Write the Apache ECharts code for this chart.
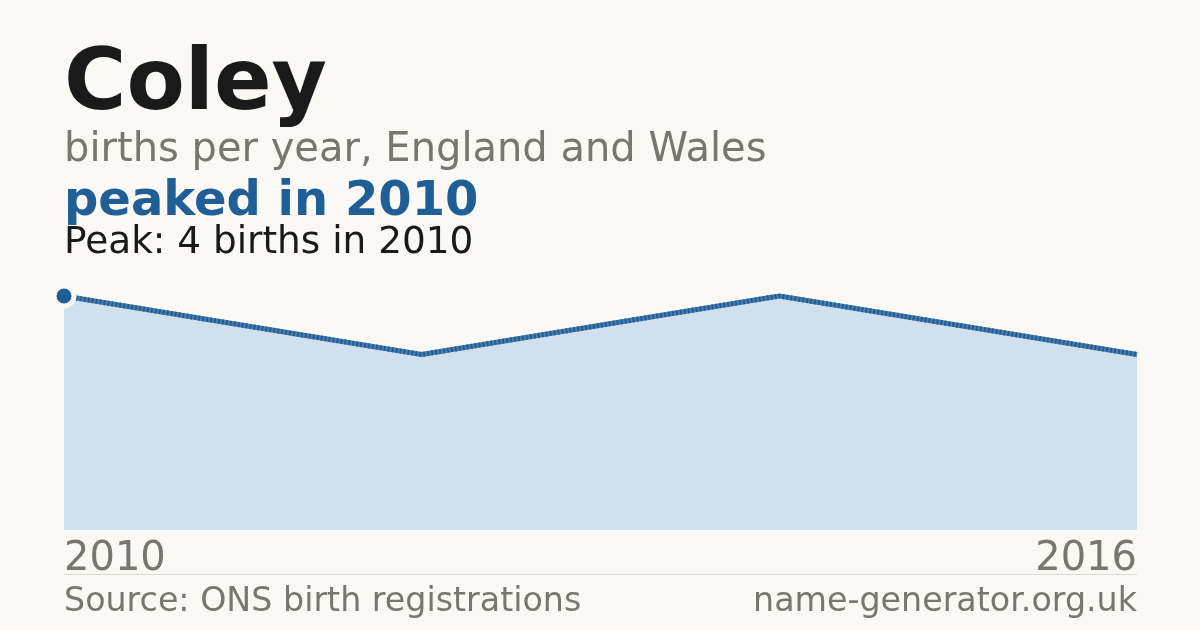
<!DOCTYPE html>
<html lang="en">
<head>
    <meta charset="UTF-8">
    <title>Coley</title>
    <script src="https://cdn.jsdelivr.net/npm/echarts@6/dist/echarts.min.js"></script>
    <style>
        html, body { margin: 0; padding: 0; background: #faf9f5; }
    </style>
</head>
<body>
    <div id="app" style="width:1200px;height:630px;"></div>
    <script>
        // births per year
        var years = [2010, 2012, 2014, 2016];
        var births = [4, 3, 4, 3];
        var axisTicks = [2010, 2016];
        var peakYear = 2010;
        var peakValue = 4;

        var font = 'DejaVu Sans';
        var bg = '#faf9f5';
        var blue = '#1f5f96';

        var points = [];
        for (var i = 0; i < years.length; i++) {
            points.push([years[i], births[i]]);
        }

        var myChart = echarts.init(document.getElementById('app'));
        var option = {
            backgroundColor: bg,
            animation: false,
            grid: {
                left: 64,
                right: 63,
                top: 296,
                bottom: 100
            },
            xAxis: {
                type: 'value',
                min: axisTicks[0],
                max: axisTicks[axisTicks.length - 1],
                interval: axisTicks[1] - axisTicks[0],
                axisLine: { show: false },
                axisTick: { show: false },
                splitLine: { show: false },
                axisLabel: {
                    color: '#7a766f',
                    fontFamily: font,
                    fontSize: 40,
                    margin: 10,
                    alignMinLabel: 'left',
                    alignMaxLabel: 'right',
                    formatter: function (v) { return String(v); }
                }
            },
            yAxis: {
                type: 'value',
                min: 0,
                max: peakValue,
                show: false
            },
            series: [{
                // lighter base of the stroke
                type: 'line',
                data: points,
                symbol: 'none',
                lineStyle: { color: '#4a7cab', width: 5 },
                areaStyle: { color: '#d0e0ef', opacity: 1 },
                z: 2
            }, {
                // dark dashes over it
                type: 'line',
                data: points,
                symbol: 'none',
                lineStyle: { color: blue, width: 5, type: [2, 2] },
                z: 3
            }, {
                type: 'scatter',
                data: [[peakYear, peakValue]],
                symbol: 'circle',
                symbolSize: 20,
                itemStyle: { color: blue, borderColor: bg, borderWidth: 5, opacity: 1 },
                emphasis: { disabled: true },
                z: 5
            }],
            graphic: [
                { type: 'text', left: 64, top: 44, style: { text: 'Coley', font: 'bold 85px "DejaVu Sans"', fill: '#1a1a1a' } },
                { type: 'text', left: 64, top: 131, style: { text: 'births per year, England and Wales', font: '40px "DejaVu Sans"', fill: '#7a766f' } },
                { type: 'text', left: 64, top: 179, style: { text: 'peaked in 2010', font: 'bold 48px "DejaVu Sans"', fill: blue } },
                { type: 'text', left: 64, top: 225, style: { text: 'Peak: ' + peakValue + ' births in ' + peakYear, font: '37.4px "DejaVu Sans"', fill: '#1a1a1a' } },
                { type: 'line', shape: { x1: 64, y1: 574.5, x2: 1137, y2: 574.5 }, style: { stroke: '#dedbd4', lineWidth: 1 } },
                { type: 'text', left: 64, top: 586, style: { text: 'Source: ONS birth registrations', font: '33.3px "DejaVu Sans"', fill: '#7a766f' } },
                { type: 'text', right: 63, top: 586, style: { text: 'name-generator.org.uk', font: '33.3px "DejaVu Sans"', fill: '#7a766f' } }
            ]
        };
        myChart.setOption(option);
    </script>
</body>
</html>
